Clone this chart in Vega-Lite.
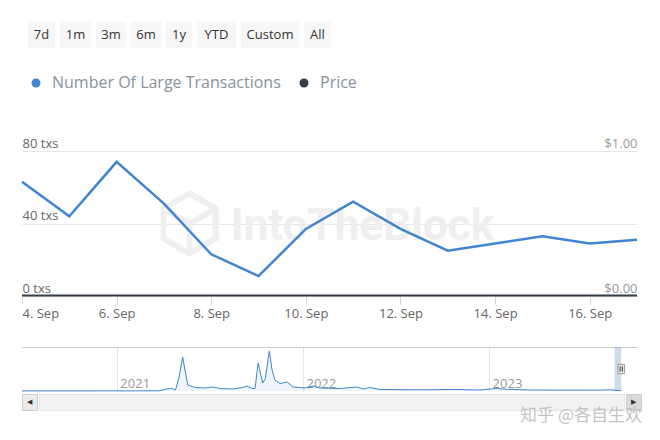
{
  "$schema": "https://vega.github.io/schema/vega-lite/v6.json",
  "padding": {"left": 17, "top": 22, "right": 18, "bottom": 0},
  "background": "white",
  "config": {
    "font": "Open Sans",
    "view": {"stroke": null},
    "axis": {"labelFont": "Open Sans", "title": null}
  },
  "title": {"text": "知乎 @各自生欢", "orient": "bottom", "anchor": "end", "font": "Noto Sans CJK SC", "fontSize": 17, "fontWeight": "normal", "color": "#c4c4c4", "offset": -3},
  "datasets": {
    "main": [
      {"date": "2023-09-04", "txs": 63, "price": 0.003},
      {"date": "2023-09-05", "txs": 44, "price": 0.003},
      {"date": "2023-09-06", "txs": 74, "price": 0.003},
      {"date": "2023-09-07", "txs": 51, "price": 0.003},
      {"date": "2023-09-08", "txs": 23, "price": 0.003},
      {"date": "2023-09-09", "txs": 11, "price": 0.003},
      {"date": "2023-09-10", "txs": 37, "price": 0.003},
      {"date": "2023-09-11", "txs": 52, "price": 0.003},
      {"date": "2023-09-12", "txs": 37, "price": 0.003},
      {"date": "2023-09-13", "txs": 25, "price": 0.003},
      {"date": "2023-09-14", "txs": 29, "price": 0.003},
      {"date": "2023-09-15", "txs": 33, "price": 0.003},
      {"date": "2023-09-16", "txs": 29, "price": 0.003},
      {"date": "2023-09-17", "txs": 31, "price": 0.003}
    ],
    "history": [
      {"date": "2020-06-29", "txs": 10},
      {"date": "2020-11-29", "txs": 10},
      {"date": "2021-03-26", "txs": 20},
      {"date": "2021-04-09", "txs": 200},
      {"date": "2021-04-19", "txs": 250},
      {"date": "2021-04-26", "txs": 100},
      {"date": "2021-05-03", "txs": 1400},
      {"date": "2021-05-10", "txs": 3400},
      {"date": "2021-05-15", "txs": 2000},
      {"date": "2021-05-20", "txs": 600},
      {"date": "2021-06-03", "txs": 350},
      {"date": "2021-06-23", "txs": 300},
      {"date": "2021-07-07", "txs": 400},
      {"date": "2021-07-22", "txs": 250},
      {"date": "2021-08-17", "txs": 200},
      {"date": "2021-09-05", "txs": 350},
      {"date": "2021-09-13", "txs": 500},
      {"date": "2021-09-23", "txs": 250},
      {"date": "2021-09-29", "txs": 250},
      {"date": "2021-10-05", "txs": 2800},
      {"date": "2021-10-14", "txs": 800},
      {"date": "2021-10-19", "txs": 1200},
      {"date": "2021-10-27", "txs": 4000},
      {"date": "2021-11-01", "txs": 2200},
      {"date": "2021-11-07", "txs": 1100},
      {"date": "2021-11-17", "txs": 750},
      {"date": "2021-12-01", "txs": 900},
      {"date": "2021-12-12", "txs": 400},
      {"date": "2021-12-26", "txs": 350},
      {"date": "2022-01-05", "txs": 300},
      {"date": "2022-01-21", "txs": 500},
      {"date": "2022-02-03", "txs": 300},
      {"date": "2022-03-15", "txs": 250},
      {"date": "2022-04-17", "txs": 400},
      {"date": "2022-04-29", "txs": 200},
      {"date": "2022-05-12", "txs": 350},
      {"date": "2022-06-01", "txs": 150},
      {"date": "2022-08-18", "txs": 120},
      {"date": "2022-10-26", "txs": 150},
      {"date": "2022-12-14", "txs": 100},
      {"date": "2023-01-03", "txs": 200},
      {"date": "2023-01-18", "txs": 250},
      {"date": "2023-02-01", "txs": 180},
      {"date": "2023-03-22", "txs": 100},
      {"date": "2023-06-08", "txs": 80},
      {"date": "2023-08-06", "txs": 90},
      {"date": "2023-08-26", "txs": 120},
      {"date": "2023-09-17", "txs": 31}
    ]
  },
  "spacing": 27,
  "vconcat": [
    {
      "spacing": 89,
      "vconcat": [
        {
          "spacing": 5,
          "hconcat": [
            {"width": 1, "height": 26, "data": {"values": [{"b": ""}]}, "mark": {"type": "text"}, "encoding": {"text": {"field": "b"}}},
            {"width": 27, "height": 26, "view": {"fill": "#f7f7f7"}, "data": {"values": [{"b": "7d"}]}, "mark": {"type": "text", "fontSize": 13, "color": "#333333"}, "encoding": {"text": {"field": "b"}}},
            {"width": 31, "height": 26, "view": {"fill": "#f7f7f7"}, "data": {"values": [{"b": "1m"}]}, "mark": {"type": "text", "fontSize": 13, "color": "#333333"}, "encoding": {"text": {"field": "b"}}},
            {"width": 30, "height": 26, "view": {"fill": "#f7f7f7"}, "data": {"values": [{"b": "3m"}]}, "mark": {"type": "text", "fontSize": 13, "color": "#333333"}, "encoding": {"text": {"field": "b"}}},
            {"width": 30, "height": 26, "view": {"fill": "#f7f7f7"}, "data": {"values": [{"b": "6m"}]}, "mark": {"type": "text", "fontSize": 13, "color": "#333333"}, "encoding": {"text": {"field": "b"}}},
            {"width": 26, "height": 26, "view": {"fill": "#f7f7f7"}, "data": {"values": [{"b": "1y"}]}, "mark": {"type": "text", "fontSize": 13, "color": "#333333"}, "encoding": {"text": {"field": "b"}}},
            {"width": 39, "height": 26, "view": {"fill": "#f7f7f7"}, "data": {"values": [{"b": "YTD"}]}, "mark": {"type": "text", "fontSize": 13, "color": "#333333"}, "encoding": {"text": {"field": "b"}}},
            {"width": 58, "height": 26, "view": {"fill": "#f7f7f7"}, "data": {"values": [{"b": "Custom"}]}, "mark": {"type": "text", "fontSize": 13, "color": "#333333"}, "encoding": {"text": {"field": "b"}}},
            {"width": 27, "height": 26, "view": {"fill": "#f7f7f7"}, "data": {"values": [{"b": "All"}]}, "mark": {"type": "text", "fontSize": 13, "color": "#333333"}, "encoding": {"text": {"field": "b"}}}
          ]
        },
        {
          "width": 615,
          "height": 145,
          "data": {"name": "main"},
          "layer": [
            {
              "data": {"values": [{"t": "IntoTheBlock"}]},
              "mark": {"type": "point", "shape": "M0,-1L0.87,-0.5L0.87,0.5L0,1L-0.87,0.5L-0.87,-0.5Z M-0.87,-0.5L0,0L0.87,-0.5M0,0L0,1", "size": 3600, "filled": false, "stroke": "#efefef", "strokeWidth": 6, "opacity": 1},
              "encoding": {
                "x": {"datum": {"year": 2023, "month": 9, "date": 7, "hours": 13, "utc": true}, "type": "temporal"}
              }
            },
            {
              "data": {"values": [{"t": "IntoTheBlock"}]},
              "mark": {"type": "text", "fontSize": 44, "fontWeight": "bold", "font": "Roboto", "color": "#efefef", "dx": 33, "dy": 3},
              "encoding": {"text": {"field": "t"}}
            },
            {
              "mark": {"type": "line", "strokeWidth": 2.5},
              "encoding": {
                "x": {
                  "field": "date", "type": "temporal",
                  "scale": {"type": "utc", "nice": false},
                  "axis": {
                    "values": [
                      {"year": 2023, "month": 9, "date": 4, "utc": true},
                      {"year": 2023, "month": 9, "date": 6, "utc": true},
                      {"year": 2023, "month": 9, "date": 8, "utc": true},
                      {"year": 2023, "month": 9, "date": 10, "utc": true},
                      {"year": 2023, "month": 9, "date": 12, "utc": true},
                      {"year": 2023, "month": 9, "date": 14, "utc": true},
                      {"year": 2023, "month": 9, "date": 16, "utc": true}
                    ],
                    "format": "%-d. %b", "labelFlush": true, "grid": false, "domain": false,
                    "tickSize": 8, "tickColor": "#ccd6eb", "labelPadding": 3,
                    "labelColor": "#666666", "labelFontSize": 13
                  }
                },
                "y": {
                  "field": "txs", "type": "quantitative",
                  "scale": {"domain": [0, 80], "nice": false},
                  "axis": {
                    "values": [0, 40, 80], "labelExpr": "datum.value + ' txs'",
                    "grid": true, "gridColor": "#e6e6e6", "ticks": false, "tickSize": 0, "domain": false,
                    "labelAlign": "left", "labelPadding": 0, "labelBaseline": "alphabetic", "labelOffset": -4,
                    "labelColor": "#666666", "labelFontSize": 13
                  }
                },
                "color": {
                  "datum": "Number Of Large Transactions",
                  "scale": {"domain": ["Number Of Large Transactions", "Price"], "range": ["#4185d0", "#353d47"]},
                  "legend": {
                    "orient": "none", "legendX": 6, "legendY": 53, "direction": "horizontal", "title": null,
                    "symbolType": "circle", "symbolSize": 80, "symbolStrokeWidth": 0,
                    "labelFontSize": 16, "labelColor": "#8a939b", "labelFont": "Open Sans", "labelLimit": 400,
                    "columnPadding": 15, "padding": 0, "labelOffset": 8,
                    "encode": {"symbols": {"update": {"fill": {"scale": "color", "field": "value"}, "fillOpacity": {"value": 1}}}}
                  }
                }
              }
            },
            {
              "mark": {"type": "line", "strokeWidth": 2},
              "encoding": {
                "x": {"field": "date", "type": "temporal"},
                "y": {
                  "field": "price", "type": "quantitative",
                  "scale": {"domain": [0, 1], "nice": false},
                  "axis": {
                    "orient": "right", "values": [0, 1], "labelExpr": "'$' + format(datum.value, '.2f')",
                    "grid": false, "ticks": false, "tickSize": 0, "domain": false,
                    "labelAlign": "right", "labelPadding": 0, "labelBaseline": "alphabetic", "labelOffset": -4,
                    "labelColor": "#999999", "labelFontSize": 13
                  }
                },
                "color": {"datum": "Price"}
              }
            }
          ],
          "resolve": {"scale": {"y": "independent"}}
        }
      ]
    },
    {
      "spacing": 0,
      "vconcat": [
        {
          "width": 615,
          "height": 44,
          "layer": [
            {
              "data": {"name": "history"},
              "mark": {"type": "area", "color": "#4185d0", "opacity": 0.08},
              "encoding": {
                "x": {
                  "field": "date", "type": "temporal",
                  "scale": {"type": "utc", "nice": false, "domain": [{"year": 2020, "month": 6, "date": 29, "utc": true}, {"year": 2023, "month": 10, "date": 18, "utc": true}]},
                  "axis": {
                    "values": [
                      {"year": 2021, "month": 1, "date": 1, "utc": true},
                      {"year": 2022, "month": 1, "date": 1, "utc": true},
                      {"year": 2023, "month": 1, "date": 1, "utc": true}
                    ],
                    "format": "%Y", "grid": true, "gridColor": "#e6e6e6", "ticks": false, "tickSize": 0, "domain": false,
                    "labelAlign": "left", "labelOffset": 3, "labelPadding": -14, "labelBaseline": "top",
                    "labelColor": "#999999", "labelFontSize": 13
                  }
                },
                "y": {
                  "field": "txs", "type": "quantitative",
                  "scale": {"domain": [0, 4400], "nice": false},
                  "axis": {"values": [4400], "grid": true, "gridColor": "#cccccc", "labels": false, "ticks": false, "domain": false}
                }
              }
            },
            {
              "data": {"name": "history"},
              "mark": {"type": "line", "color": "#4185d0", "strokeWidth": 1},
              "encoding": {
                "x": {"field": "date", "type": "temporal"},
                "y": {"field": "txs", "type": "quantitative"}
              }
            },
            {
              "data": {"name": "main"},
              "mark": {"type": "rect", "color": "#6685c2", "opacity": 0.3},
              "encoding": {
                "x": {"aggregate": "min", "field": "date", "type": "temporal"},
                "x2": {"aggregate": "max", "field": "date"}
              }
            },
            {
              "data": {"name": "main"},
              "mark": {"type": "point", "shape": "M-0.35,-0.5H0.35V0.5H-0.35Z", "size": 340, "filled": true, "fill": "#f2f2f2", "stroke": "#999999", "strokeWidth": 1, "opacity": 1},
              "encoding": {
                "x": {"aggregate": "max", "field": "date", "type": "temporal"}
              }
            },
            {
              "data": {"name": "main"},
              "mark": {"type": "point", "shape": "M-0.12,-0.3V0.3M0.12,-0.3V0.3", "size": 340, "filled": false, "stroke": "#333333", "strokeWidth": 1, "opacity": 1},
              "encoding": {
                "x": {"aggregate": "max", "field": "date", "type": "temporal"}
              }
            }
          ]
        },
        {
          "spacing": 0,
          "hconcat": [
            {"width": 15, "height": 16, "view": {"fill": "#ebebeb", "stroke": "#cccccc"}, "data": {"values": [{"a": "◀"}]}, "mark": {"type": "text", "fontSize": 7, "color": "#333333"}, "encoding": {"text": {"field": "a"}}},
            {"width": 585, "height": 16, "view": {"fill": "#f2f2f2", "stroke": "#e6e6e6"}, "data": {"values": [{"a": ""}]}, "mark": {"type": "text"}, "encoding": {"text": {"field": "a"}}},
            {"width": 15, "height": 16, "view": {"fill": "#d9d9d9", "stroke": "#cccccc"}, "data": {"values": [{"a": "▶"}]}, "mark": {"type": "text", "fontSize": 7, "color": "#333333"}, "encoding": {"text": {"field": "a"}}}
          ]
        }
      ]
    }
  ]
}
